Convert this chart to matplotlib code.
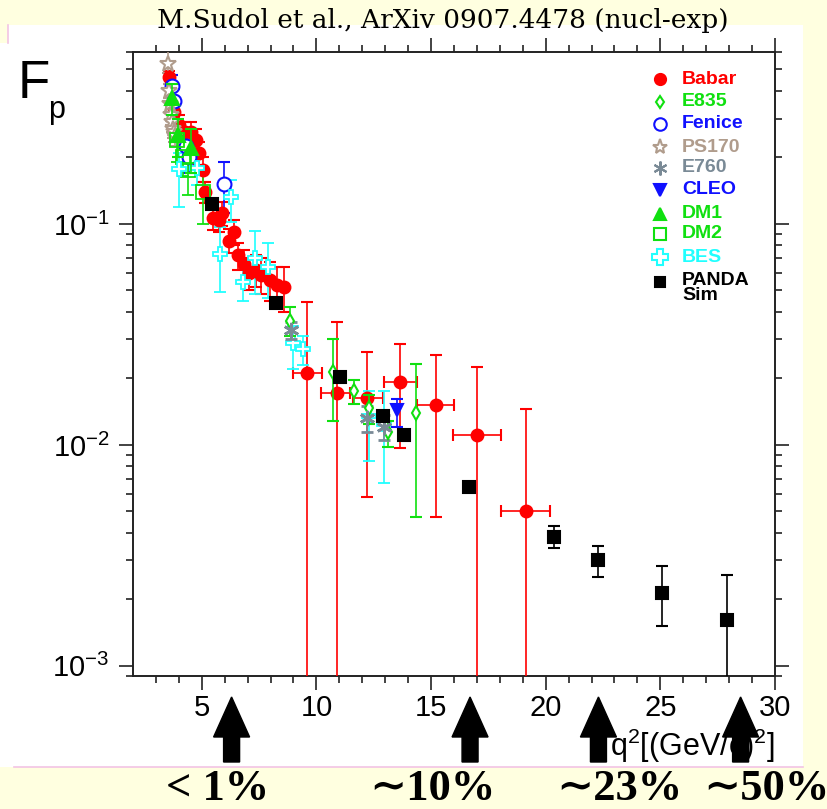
import matplotlib
matplotlib.use("Agg")
import numpy as np
import matplotlib.pyplot as plt
from matplotlib.patches import Rectangle, FancyArrow
from matplotlib.lines import Line2D
from matplotlib.ticker import FixedLocator, LogLocator, NullFormatter, FixedFormatter
import matplotlib.transforms as mtransforms
from matplotlib import font_manager

NARROW = "Liberation Sans Narrow"
have_narrow = any(f.name == NARROW for f in font_manager.fontManager.ttflist)
TICKFONT = NARROW if have_narrow else "Liberation Sans"

plt.rcParams["font.family"] = ["Liberation Sans", "DejaVu Sans"]
plt.rcParams["mathtext.fontset"] = "custom"
plt.rcParams["mathtext.rm"] = TICKFONT
plt.rcParams["mathtext.it"] = TICKFONT + ":italic"
plt.rcParams["mathtext.bf"] = TICKFONT + ":bold"

W, H = 828, 809
OFF = 1e-4  # error bar runs below the axis

# ---------------- data (q^2 in (GeV/c)^2, |G| ratio F_p) ----------------
babar_x = [3.57, 3.8, 4.0, 4.25, 4.52, 4.74, 4.9, 5.04, 5.13, 5.48, 5.74, 5.9,
           6.17, 6.39, 6.6, 6.83, 7.04, 7.35, 7.6, 7.96, 8.26, 8.57,
           9.61, 10.91, 12.2, 13.65, 15.2, 17.0, 19.13]
babar_y = [0.46, 0.32, 0.28, 0.26, 0.26, 0.24, 0.21, 0.176, 0.14, 0.106, 0.104, 0.112,
           0.084, 0.092, 0.072, 0.066, 0.060, 0.062, 0.059, 0.056, 0.053, 0.052,
           0.0212, 0.0172, 0.0163, 0.0193, 0.0152, 0.0111, 0.0050]
babar_lo = [0.43, 0.29, 0.25, 0.23, 0.23, 0.21, 0.185, 0.155, 0.125, 0.094, 0.092, 0.098,
            0.074, 0.080, 0.062, 0.056, 0.050, 0.052, 0.048, 0.045, 0.042, 0.040,
            OFF, OFF, 0.0058, 0.0097, 0.0047, OFF, OFF]
babar_hi = [0.49, 0.35, 0.31, 0.29, 0.29, 0.27, 0.235, 0.20, 0.155, 0.118, 0.116, 0.126,
            0.095, 0.104, 0.082, 0.076, 0.070, 0.072, 0.070, 0.067, 0.064, 0.064,
            0.0444, 0.036, 0.0263, 0.0286, 0.0255, 0.0226, 0.0146]
babar_xlo = [3.57, 3.8, 4.0, 4.25, 4.52, 4.74, 4.9, 5.04, 5.13, 5.48, 5.74, 5.9,
             6.17, 6.39, 6.6, 6.83, 7.04, 7.35, 7.6, 7.96, 8.26, 8.57,
             9.0, 10.22, 11.6, 12.96, 14.39, 15.96, 18.04]
babar_xhi = [3.57, 3.8, 4.0, 4.25, 4.52, 4.74, 4.9, 5.04, 5.13, 5.48, 5.74, 5.9,
             6.17, 6.39, 6.6, 6.83, 7.04, 7.35, 7.6, 7.96, 8.26, 8.57,
             10.26, 11.48, 12.9, 14.39, 16.0, 18.04, 20.2]

e835_x = [8.84, 10.74, 11.65, 12.3, 13.13, 14.35]
e835_y = [0.0364, 0.0213, 0.0176, 0.0147, 0.0114, 0.0140]
e835_lo = [0.031, 0.0128, 0.0153, 0.0125, 0.0098, 0.0047]
e835_hi = [0.042, 0.030, 0.0197, 0.0168, 0.0128, 0.0233]

fenice_x = [3.72, 3.8, 4.3, 4.45, 5.96]
fenice_y = [0.42, 0.36, 0.225, 0.20, 0.152]
fenice_lo = [0.37, 0.31, 0.19, 0.17, 0.112]
fenice_hi = [0.47, 0.41, 0.26, 0.23, 0.19]

ps170_x = [3.52, 3.55, 3.6, 3.65, 3.7, 3.75, 3.8, 3.85]
ps170_y = [0.53, 0.40, 0.35, 0.31, 0.29, 0.27, 0.26, 0.25]
ps170_lo = [0.48, 0.37, 0.32, 0.28, 0.26, 0.245, 0.235, 0.225]
ps170_hi = [0.62, 0.43, 0.38, 0.34, 0.32, 0.295, 0.285, 0.275]

e760_x = [8.87, 12.2, 12.96]
e760_y = [0.0331, 0.0133, 0.0121]
e760_lo = [0.030, 0.0115, 0.0105]
e760_hi = [0.036, 0.0150, 0.0137]

cleo_x = [13.52]
cleo_y = [0.0144]
cleo_lo = [0.0121]
cleo_hi = [0.0162]

dm1_x = [3.71, 3.95, 4.52]
dm1_y = [0.37, 0.253, 0.22]
dm1_lo = [0.31, 0.20, 0.17]
dm1_hi = [0.43, 0.30, 0.27]

dm2_x = [3.9, 4.2, 4.41, 5.06]
dm2_y = [0.24, 0.20, 0.176, 0.14]
dm2_lo = [0.19, 0.165, 0.135, 0.10]
dm2_hi = [0.29, 0.235, 0.21, 0.175]

bes_x = [4.0, 4.8, 5.78, 6.26, 6.78, 7.3, 7.87, 9.0, 9.43, 12.3, 12.95]
bes_y = [0.178, 0.18, 0.0732, 0.132, 0.0546, 0.070, 0.064, 0.029, 0.0272, 0.0135, 0.0125]
bes_lo = [0.119, 0.15, 0.049, 0.102, 0.045, 0.048, 0.046, 0.022, 0.023, 0.0085, 0.0067]
bes_hi = [0.21, 0.21, 0.097, 0.158, 0.068, 0.093, 0.082, 0.0345, 0.031, 0.0175, 0.0175]

panda_x = [5.43, 8.22, 11.04, 12.9, 13.83, 16.65, 20.35, 22.26, 25.09, 27.9]
panda_y = [0.123, 0.0439, 0.0203, 0.0135, 0.0111, 0.00646, 0.00385, 0.00300, 0.00214, 0.00161]
panda_lo = [0.123, 0.0439, 0.0203, 0.0135, 0.0111, 0.00646, 0.0034, 0.00253, 0.00152, OFF]
panda_hi = [0.123, 0.0439, 0.0203, 0.0135, 0.0111, 0.00646, 0.0043, 0.00348, 0.00282, 0.00258]

arrow_q2 = [6.3, 16.7, 22.3, 28.5]
arrow_text = ["< 1%", "\u223c10%", "\u223c23%", "\u223c50%"]

RED, GREEN, BLUE, CYAN = "#ff0000", "#10e010", "#1010ff", "#20ffff"
TAN, GREY = "#b09c8c", "#7a8a96"


def px(x, y):
    return x / W, 1 - y / H


def draw(ax, x, y, lo, hi, color, marker, ms, mfc=None, mew=1.5, xlo=None, xhi=None, z=3):
    x, y, lo, hi = map(np.asarray, (x, y, lo, hi))
    xerr = None
    if xlo is not None:
        xerr = [x - np.asarray(xlo), np.asarray(xhi) - x]
    ax.errorbar(x, y, yerr=[y - lo, hi - y], xerr=xerr, fmt="", marker=marker, ls="none",
                color=color, ms=ms, mfc=color if mfc is None else mfc, mec=color, mew=mew,
                elinewidth=1.2, capsize=4.5, capthick=1.2, zorder=z)


fig = plt.figure(figsize=(W / 100, H / 100), dpi=100)
fig.patch.set_facecolor("#ffffe0")
pix = mtransforms.Affine2D().scale(1 / W, -1 / H).translate(0, 1) + fig.transFigure
fig.patches.append(Rectangle((0, 43), 803, 724, transform=pix, fc="white", ec="none", zorder=-5))
fig.patches.append(Rectangle((8, 25), 795, 20, transform=pix, fc="white", ec="none", zorder=-5))
fig.lines.append(Line2D([14, 803], [767, 767], transform=pix, color="#f2c4e4", lw=1.2, zorder=-4))
fig.lines.append(Line2D([8, 8], [25, 43], transform=pix, color="#f2c4e4", lw=1.2, zorder=-4))

ax = fig.add_axes([133 / W, 1 - 676 / H, (775 - 133) / W, (676 - 52) / H])
ax.set_zorder(1)
ax.patch.set_alpha(0)
ax.set_yscale("log")
ax.set_xlim(2, 30)
ax.set_ylim(0.0009, 0.6)

draw(ax, babar_x, babar_y, babar_lo, babar_hi, RED, "o", 8.5, xlo=babar_xlo, xhi=babar_xhi, z=3)
draw(ax, e835_x, e835_y, e835_lo, e835_hi, GREEN, "d", 7, mfc="white", z=4)
draw(ax, fenice_x, fenice_y, fenice_lo, fenice_hi, BLUE, "o", 10, mfc="white", z=3)
draw(ax, ps170_x, ps170_y, ps170_lo, ps170_hi, TAN, "*", 12, mfc="white", z=3)
draw(ax, e760_x, e760_y, e760_lo, e760_hi, GREY, (6, 2, 0), 11, mew=2, z=4)
draw(ax, cleo_x, cleo_y, cleo_lo, cleo_hi, BLUE, "v", 8, z=4)
draw(ax, dm1_x, dm1_y, dm1_lo, dm1_hi, GREEN, "^", 10, z=4)
draw(ax, dm2_x, dm2_y, dm2_lo, dm2_hi, GREEN, "s", 10, mfc="none", mew=1.3, z=3)
draw(ax, bes_x, bes_y, bes_lo, bes_hi, CYAN, "P", 10.5, mfc="white", mew=1.3, z=3)
draw(ax, panda_x, panda_y, panda_lo, panda_hi, "black", "s", 8, z=5)

# axes style
for s in ax.spines.values():
    s.set_linewidth(1.4)
    s.set_color("#222222")
ax.xaxis.set_major_locator(FixedLocator([5, 10, 15, 20, 25, 30]))
ax.xaxis.set_minor_locator(FixedLocator(np.arange(3, 30, 1)))
ax.yaxis.set_major_locator(FixedLocator([1e-3, 1e-2, 1e-1]))
ax.yaxis.set_major_formatter(FixedFormatter([r"$\mathregular{10^{-3}}$", r"$\mathregular{10^{-2}}$",
                                             r"$\mathregular{10^{-1}}$"]))
ax.yaxis.set_minor_locator(LogLocator(base=10, subs=np.arange(2, 10)))
ax.yaxis.set_minor_formatter(NullFormatter())
ax.tick_params(which="both", direction="out", top=True, right=True, width=1.2, color="#222222")
ax.tick_params(which="major", length=10, labelsize=21)
ax.tick_params(which="minor", length=5)
ax.tick_params(axis="y", which="major", pad=7)
ax.tick_params(axis="x", which="major", pad=3)
for lab in ax.get_xticklabels() + ax.get_yticklabels():
    lab.set_family(TICKFONT)

fig.text(*px(775, 756), r"q$^2$[(GeV/c)$^2$]", ha="right", va="baseline", fontsize=22,
         family=TICKFONT)
fig.text(*px(18, 98), "F", ha="left", va="baseline", fontsize=38)
fig.text(*px(48, 118), "p", ha="left", va="baseline", fontsize=22)
fig.text(*px(443, 28), "M.Sudol et al., ArXiv 0907.4478 (nucl-exp)", ha="center", va="baseline",
         fontsize=19, family="DejaVu Serif")

# legend
leg = [("Babar", RED, "o", "full", 8), ("E835", GREEN, "d", "none", 6),
       ("Fenice", BLUE, "o", "none", 9), ("PS170", TAN, "*", "none", 11),
       ("E760", GREY, (6, 2, 0), "full", 10), ("CLEO", BLUE, "v", "full", 8),
       ("DM1", GREEN, "^", "full", 8), ("DM2", GREEN, "s", "none", 9),
       ("BES", CYAN, "P", "none", 11), ("PANDA\nSim", "black", "s", "full", 7)]
leg_y = [79, 102, 124, 147, 168, 190, 214, 234, 257, 282]
for (name, c, m, fill, ms), yy in zip(leg, leg_y):
    mfc = c if fill == "full" else "white"
    fig.lines.append(Line2D([660], [yy], transform=pix, marker=m, ms=ms, mfc=mfc, mec=c,
                            mew=1.5, ls="none", zorder=3))
    fig.text(*px(682, yy), name, ha="left", va="top" if "\n" in name else "center",
             color=c, fontsize=14, fontweight="bold", linespacing=0.85)
fig.texts[-1].set_position(px(682, yy - 10))

# arrows + efficiency labels
fig.canvas.draw()
text_x = [218, 432, 619, 766]
for q, t, tx in zip(arrow_q2, arrow_text, text_x):
    xd = ax.transData.transform((q, 0.01))[0]
    fig.patches.append(FancyArrow(xd, 762, 0, -65, width=16, head_width=36, head_length=40,
                                  length_includes_head=True, transform=pix, fc="black",
                                  ec="black", zorder=6))
    fig.text(*px(tx, 800), t, ha="center", va="baseline", fontsize=32, fontweight="bold",
             family=["Liberation Serif", "DejaVu Serif"])

fig.savefig("out.png", dpi=100, facecolor=fig.get_facecolor())
